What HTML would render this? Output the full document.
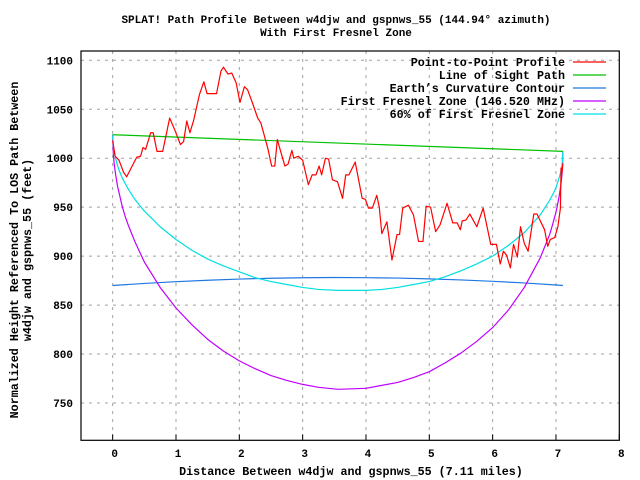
<!DOCTYPE html>
<html><head><meta charset="utf-8"><style>
body{margin:0;background:#fff}
svg{display:block}
text{font-family:"Liberation Mono",monospace;font-weight:bold;font-size:11px;fill:#000}
.big{font-size:11.7px}
</style></head><body>
<svg id="chart" width="640" height="480" xmlns="http://www.w3.org/2000/svg">
<rect width="640" height="480" fill="#fff"/>
<text x="336" y="23" text-anchor="middle">SPLAT! Path Profile Between w4djw and gspnws_55 (144.94° azimuth)</text>
<text x="336" y="36" text-anchor="middle">With First Fresnel Zone</text>
<g id="grid"></g>
<g id="ticks"></g>
<g id="series"></g>
<rect x="81" y="51" width="538.3" height="389.3" fill="none" stroke="#000" stroke-width="1.2"/>
<text class="big" transform="translate(18,250) rotate(-90)" text-anchor="middle">Normalized Height Referenced To LOS Path Between</text>
<text class="big" transform="translate(31,250) rotate(-90)" text-anchor="middle">w4djw and gspnws_55 (feet)</text>
<text class="big" x="351" y="475" text-anchor="middle">Distance Between w4djw and gspnws_55 (7.11 miles)</text>
<g id="legend"></g>
</svg>
<script>
const xTicks=[0,1,2,3,4,5,6,7,8];
const yTicks=[750,800,850,900,950,1000,1050,1100];
const terrainDist=[0,0.04,0.10,0.17,0.22,0.38,0.44,0.48,0.52,0.60,0.64,0.70,0.79,0.90,0.98,1.07,1.12,1.17,1.22,1.28,1.37,1.44,1.49,1.64,1.71,1.75,1.82,1.88,1.95,2.01,2.08,2.13,2.21,2.29,2.34,2.45,2.51,2.56,2.60,2.67,2.72,2.77,2.83,2.86,2.93,3.00,3.09,3.15,3.21,3.26,3.30,3.36,3.41,3.47,3.55,3.63,3.68,3.73,3.83,3.94,3.99,4.04,4.10,4.17,4.21,4.25,4.33,4.41,4.49,4.53,4.58,4.67,4.75,4.83,4.90,4.95,5.02,5.10,5.17,5.28,5.37,5.44,5.49,5.52,5.58,5.64,5.75,5.85,5.97,6.06,6.12,6.17,6.22,6.28,6.33,6.39,6.44,6.50,6.56,6.65,6.70,6.82,6.87,6.91,6.98,7.03,7.07,7.08,7.09,7.11];
const terrainElev=[1018,1002,998,986,981,1001,1002,1011,1009,1026,1026,1007,1007,1041,1029,1014,1017,1038,1026,1039,1065,1078,1066,1066,1089,1093,1086,1087,1077,1057,1073,1070,1056,1041,1036,1010,992,992,1019,1003,992,994,1008,1000,1002,998,973,983,983,992,983,1000,999,978,976,959,983,983,996,959,958,949,949,962,950,923,935,896,922,922,949,952,942,915,915,951,950,925,932,954,934,934,927,936,937,943,930,949,912,912,892,905,901,888,912,899,930,913,905,943,943,927,910,917,919,930,949,990,983,995];
const losDist=[0,7.11];
const losElev=[1024,1007];
const curveDist=[0,0.5,1,1.5,2,2.5,3,3.5,4,4.5,5,5.5,6,6.5,7,7.11];
const curveElev=[870,872.1,873.9,875.4,876.6,877.4,877.9,878.2,878,877.6,876.8,875.7,874.3,872.6,870.5,870];
const fresnelDist=[0,0.01,0.02,0.03,0.05,0.075,0.1,0.15,0.2,0.25,0.35,0.5,0.75,1,1.25,1.5,1.75,2,2.25,2.5,2.75,3,3.25,3.555,4,4.25,4.5,4.75,5,5.25,5.5,5.75,6,6.25,6.5,6.75,6.9,6.95,7,7.02,7.05,7.08,7.09,7.1,7.11];
const fresnelElev=[1024,1005,997,991,982,972,965,951,940,931,915,894,868,847,830,815,803,793,785,778,773,769,766,764,765,768,771,776,782,791,801,813,827,845,868,898,922,933,945,951,961,974,980,988,1007];
const fresnel60Elev=[1024,1013,1008,1004,999,993,988,980,974,968,958,946,930,917,906,897,890,884,878,874,871,868,866,865,865,866,868,871,874,879,885,892,900,911,924,942,957,963,970,974,980,987,991,996,1007];

const L=81,R=619.3,T=51,B=440.3;
function xs(d){return L+(d+0.5)*(R-L)/8.5;}
function ys(v){return 403-(v-750)*(403-60.3)/350;}
const NS="http://www.w3.org/2000/svg";
function mk(tag,parent,attrs){const e=document.createElementNS(NS,tag);for(const k in attrs)e.setAttribute(k,attrs[k]);parent.appendChild(e);return e;}
const grid=document.getElementById('grid'),ticks=document.getElementById('ticks');
xTicks.forEach(t=>{
  const x=xs(t);
  if(t<8){const g=mk('line',grid,{x1:x,x2:x,y1:T,y2:B,stroke:'#a0a0a0','stroke-dasharray':'3,5'});
  
  }
  const tk=mk('line',ticks,{x1:x,x2:x,y1:B,y2:B-6,stroke:'#000'});
  
  
  const lb=mk('text',ticks,{x:x+2,y:457,'text-anchor':'middle'});lb.textContent=t;
  
  
});
yTicks.forEach(t=>{
  const y=ys(t);
  const g=mk('line',grid,{x1:L,x2:R,y1:y,y2:y,stroke:'#a0a0a0','stroke-dasharray':'3,5'});
  
  
  const lb=mk('text',ticks,{x:73,y:y+4,'text-anchor':'end'});lb.textContent=t;
  
  
});
const ser=document.getElementById('series');
function line(ds,vs,color,name){
  const p=mk('polyline',ser,{points:ds.map((d,i)=>xs(d)+','+ys(vs[i])).join(' '),fill:'none',stroke:color,'stroke-width':1.2,'stroke-linejoin':'round'});
  
  
}
line(curveDist,curveElev,'#1e78e0','earth-curvature-line');
line(fresnelDist,fresnelElev,'#c000ff','fresnel-zone-line');
line(fresnelDist,fresnel60Elev,'#00e0e0','fresnel-60-line');
line(losDist,losElev,'#00c000','line-of-sight');
line(terrainDist,terrainElev,'#ff0000','terrain-profile');
const legendLabels=["Point-to-Point Profile","Line of Sight Path","Earth’s Curvature Contour","First Fresnel Zone (146.520 MHz)","60% of First Fresnel Zone"];
const legendColors=['#ff0000','#00c000','#1e78e0','#c000ff','#00e0e0'];
const lg=document.getElementById('legend');
legendLabels.forEach((s,i)=>{
  const y=62+i*13;
  const t=mk('text',lg,{x:565,y:y+4,'text-anchor':'end','class':'big'});t.textContent=s;
  
  
  const l=mk('line',lg,{x1:573,x2:606,y1:y,y2:y,stroke:legendColors[i],'stroke-width':1.2});
  
  
});
</script>
</body></html>
